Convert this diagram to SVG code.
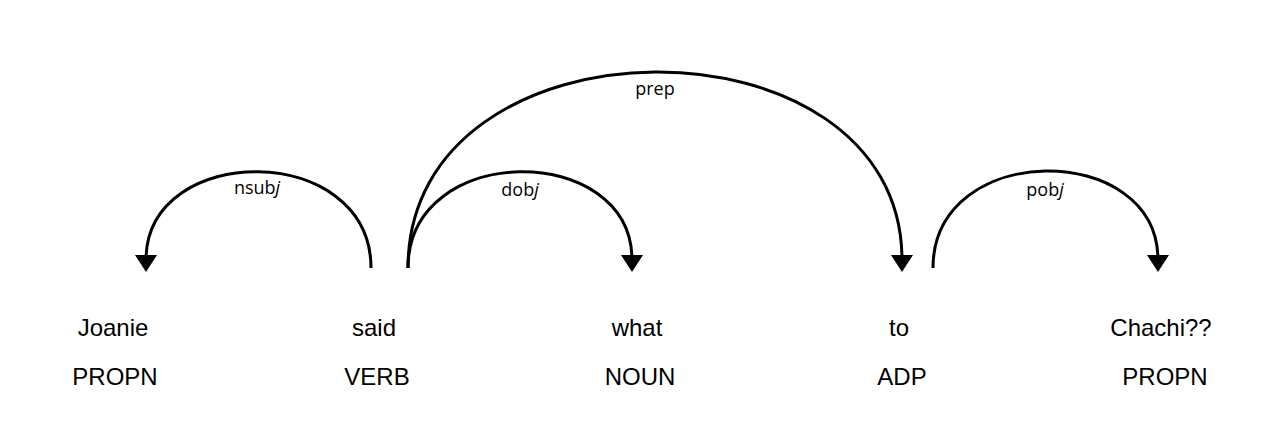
<svg xmlns="http://www.w3.org/2000/svg" width="1261" height="436" viewBox="0 0 1261 436">
<style>
.word{font-family:"Liberation Sans",Arial,sans-serif;font-size:24px;fill:#000;text-anchor:middle}
.arc{fill:none;stroke:#000;stroke-width:3}
.head{fill:#000}
.lbl{font-family:"Open Sans","DejaVu Sans",sans-serif;font-size:18px;fill:#000;text-anchor:middle}
</style>
<rect width="1261" height="436" fill="#fff"/>
<g id="w0"><text class="word" x="113" y="336">Joanie</text><text class="word" x="115" y="385">PROPN</text></g>
<g id="w1"><text class="word" x="374" y="336">said</text><text class="word" x="377" y="385">VERB</text></g>
<g id="w2"><text class="word" x="637" y="336">what</text><text class="word" x="640" y="385">NOUN</text></g>
<g id="w3"><text class="word" x="899" y="336">to</text><text class="word" x="902" y="385">ADP</text></g>
<g id="w4"><text class="word" x="1161" y="336">Chachi??</text><text class="word" x="1165" y="385">PROPN</text></g>
<g id="connectors">
<g id="arc-nsubj">
<path class="arc" d="M371,268 C371,141 146,141 146,260"/>
<polygon class="head" points="135,255 157,255 146,272"/>
<text class="lbl" x="257" y="194">nsub<tspan font-style="italic">j</tspan></text>
</g>
<g id="arc-dobj">
<path class="arc" d="M408,268 C408,141 632,141 632,260"/>
<polygon class="head" points="621,255 643,255 632,272"/>
<text class="lbl" x="520" y="196">dob<tspan font-style="italic">j</tspan></text>
</g>
<g id="arc-prep">
<path class="arc" d="M408,268 C408,8 902,8 902,260"/>
<polygon class="head" points="891,255 913,255 902,272"/>
<text class="lbl" x="655" y="95">prep</text>
</g>
<g id="arc-pobj">
<path class="arc" d="M933,268 C933,140 1158,140 1158,260"/>
<polygon class="head" points="1147,255 1169,255 1158,272"/>
<text class="lbl" x="1045" y="196">pob<tspan font-style="italic">j</tspan></text>
</g>
</g>
</svg>
